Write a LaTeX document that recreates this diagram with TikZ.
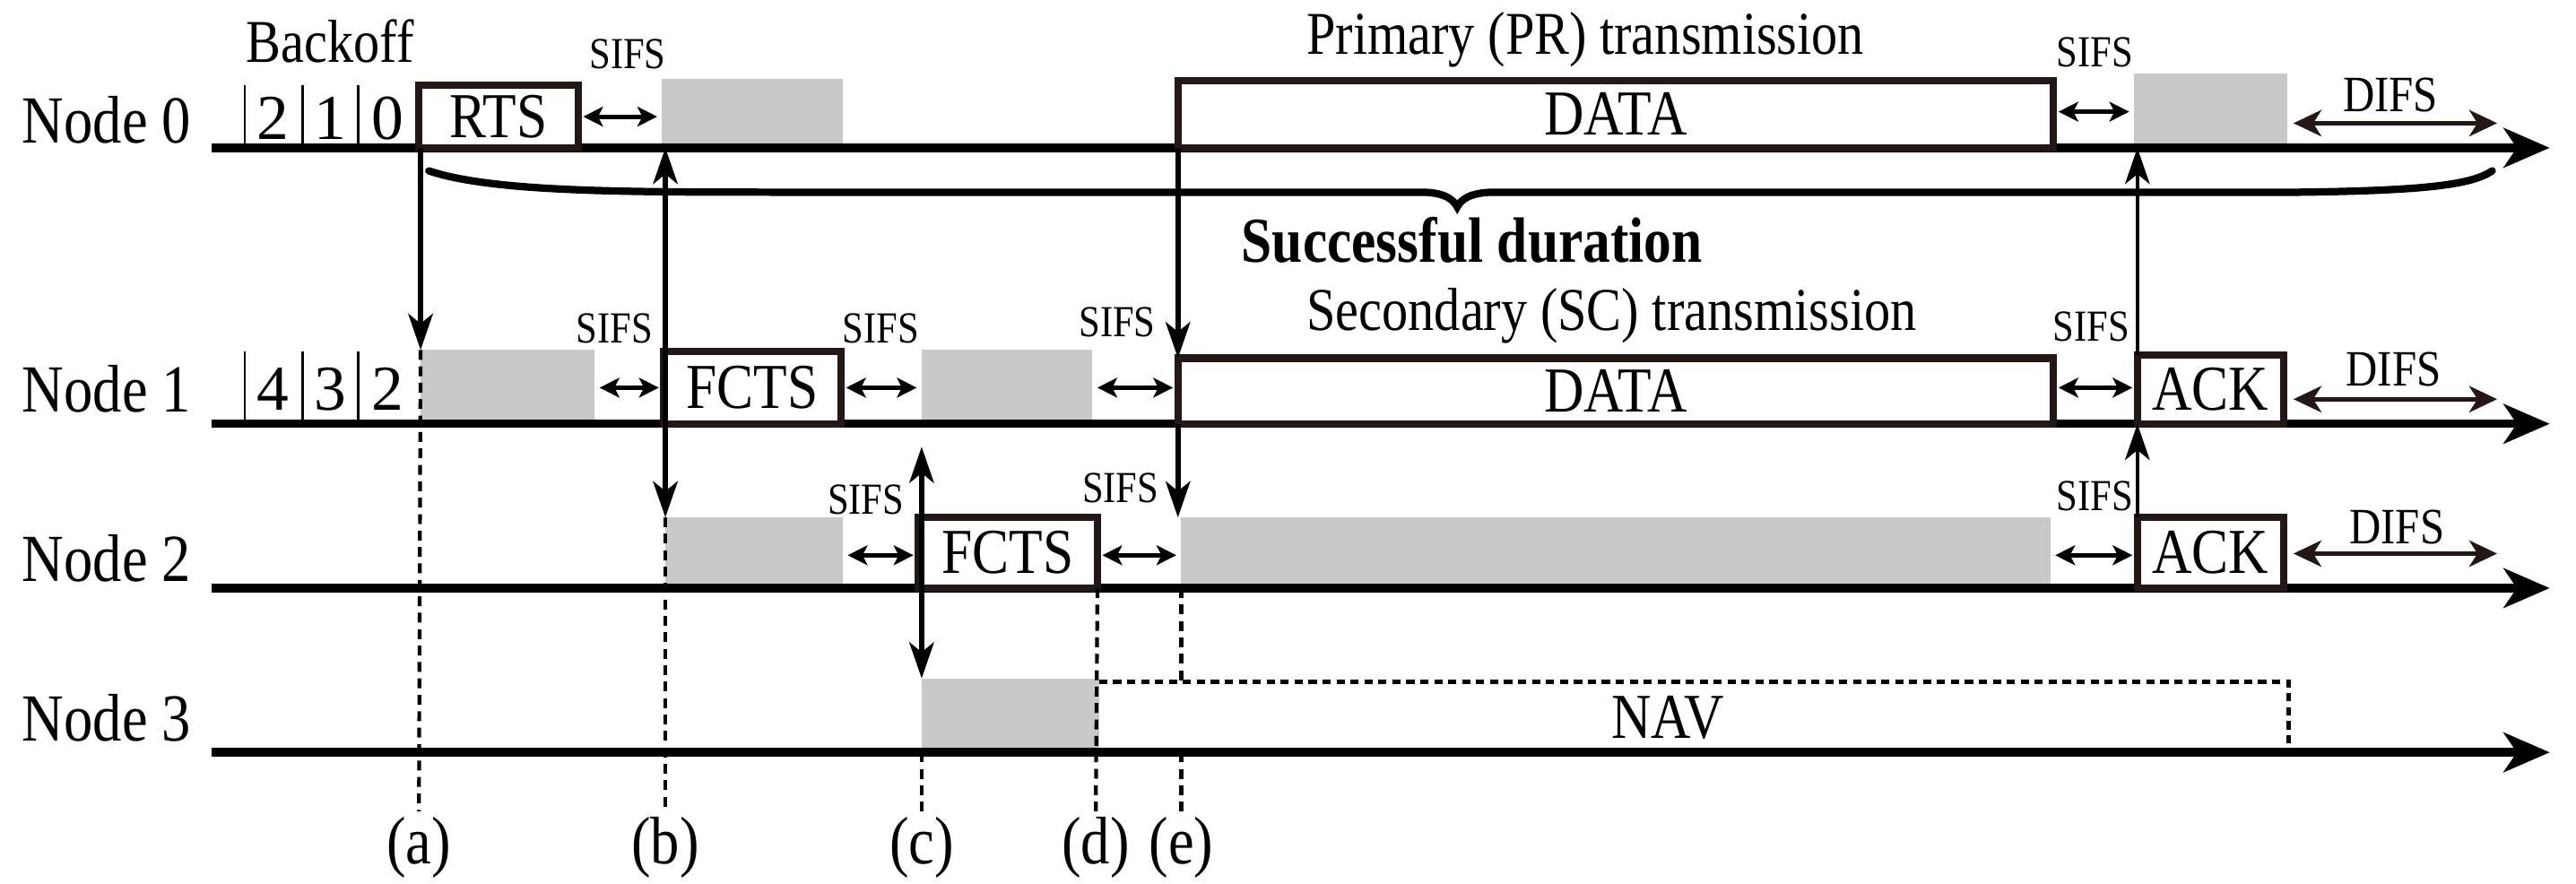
\documentclass[tikz,border=0pt]{standalone}
\usepackage{fontspec}
\setmainfont{Liberation Serif}
\usetikzlibrary{arrows.meta,fit}
\definecolor{gbox}{HTML}{C8C8C8}
\definecolor{ink}{HTML}{231815}
\newcommand{\cn}[1]{\scalebox{0.86}[1]{#1}}
\begin{document}
\begin{tikzpicture}[x=1pt,y=-1pt,
  axis/.style={line width=5.2pt,-{Stealth[length=28pt,width=24pt,inset=8pt]}},
  frame/.style={draw=ink,line width=4.5pt,fill=white,inner sep=0pt,outer sep=0pt},
  grey/.style={fill=gbox,draw=none,inner sep=0pt,outer sep=0pt},
  arr/.style={line width=3pt,-{Stealth[length=22pt,width=15pt,inset=6pt]}},
  darr/.style={line width=3pt,{Stealth[length=22pt,width=15pt,inset=6pt]}-{Stealth[length=22pt,width=15pt,inset=6pt]}},
  sarr/.style={line width=2.8pt,{Stealth[length=12pt,width=12pt,inset=3pt]}-{Stealth[length=12pt,width=12pt,inset=3pt]},shorten <=3pt,shorten >=3pt},
  difs/.style={draw=ink,line width=2.8pt,{Stealth[length=17pt,width=16pt,inset=5pt]}-{Stealth[length=17pt,width=16pt,inset=5pt]}},
  dsh/.style={line width=2.3pt,dash pattern=on 6pt off 4pt},
  sifs/.style={font=\fontsize{27}{27}\selectfont},
  lab/.style={font=\fontsize{41}{41}\selectfont},
  box/.style={font=\fontsize{39}{39}\selectfont},
  big/.style={font=\fontsize{37}{37}\selectfont},
  sep/.style={line width=1.5pt}]
\useasboundingbox (0,0) rectangle (1568,538);
% node labels
\node[lab] (n0) at (65,73) {\cn{Node 0}};
\node[lab] (n1) at (65,237) {\cn{Node 1}};
\node[lab] (n2) at (65,340) {\cn{Node 2}};
\node[lab] (n3) at (65,437) {\cn{Node 3}};
\node[big] (bo) at (201,25) {\cn{Backoff}};
% axes
\coordinate (a0s) at (129,90); \coordinate (a0e) at (1552,90);
\coordinate (a1s) at (129,258); \coordinate (a1e) at (1552,258);
\coordinate (a2s) at (129,358); \coordinate (a2e) at (1552,358);
\coordinate (a3s) at (129,458); \coordinate (a3e) at (1552,458);
% grey boxes
\coordinate (p1) at (403,48); \coordinate (p2) at (513,90); \node[grey,fit=(p1)(p2)] (g01) {};
\coordinate (p1) at (1299,45); \coordinate (p2) at (1392,90); \node[grey,fit=(p1)(p2)] (g02) {};
\coordinate (p1) at (256,213); \coordinate (p2) at (362,258); \node[grey,fit=(p1)(p2)] (g11) {};
\coordinate (p1) at (561,213); \coordinate (p2) at (665,258); \node[grey,fit=(p1)(p2)] (g12) {};
\coordinate (p1) at (405,315); \coordinate (p2) at (513,358); \node[grey,fit=(p1)(p2)] (g21) {};
\coordinate (p1) at (719,315); \coordinate (p2) at (1248,358); \node[grey,fit=(p1)(p2)] (g22) {};
\coordinate (p1) at (561,413); \coordinate (p2) at (669,458); \node[grey,fit=(p1)(p2)] (g31) {};
% axes drawn
\draw[axis] (a0s) -- (a0e);
\draw[axis] (a1s) -- (a1e);
\draw[axis] (a2s) -- (a2e);
\draw[axis] (a3s) -- (a3e);
% framed boxes
\coordinate (p1) at (255,52); \coordinate (p2) at (352,90); \node[frame,fit=(p1)(p2)] (rts) {};
\node[box] at (rts.center) {\cn{RTS}};
\coordinate (p1) at (717,49); \coordinate (p2) at (1250,90); \node[frame,fit=(p1)(p2)] (d0) {};
\node[box] at (d0.center) {\cn{DATA}};
\coordinate (p1) at (404,214); \coordinate (p2) at (512,258); \node[frame,fit=(p1)(p2)] (f1) {};
\node[box] at (f1.center) {\cn{FCTS}};
\coordinate (p1) at (717,218); \coordinate (p2) at (1250,258); \node[frame,fit=(p1)(p2)] (d1) {};
\node[box] at (d1.center) {\cn{DATA}};
\coordinate (p1) at (1301,216); \coordinate (p2) at (1390,258); \node[frame,fit=(p1)(p2)] (ack1) {};
\node[box] at (ack1.center) {\cn{ACK}};
\coordinate (p1) at (559,315); \coordinate (p2) at (668,358); \node[frame,fit=(p1)(p2)] (f2) {};
\node[box] at (f2.center) {\cn{FCTS}};
\coordinate (p1) at (1301,315); \coordinate (p2) at (1390,358); \node[frame,fit=(p1)(p2)] (ack2) {};
\node[box] at (ack2.center) {\cn{ACK}};
% NAV
\coordinate (nav1) at (669,415); \coordinate (nav2) at (1393,415); \coordinate (nav3) at (1393,458);
\draw[line width=2.8pt,dash pattern=on 5pt off 3.5pt] (nav1) -- (nav2) -- (nav3);
\node[box] (navt) at (1015,437) {\cn{NAV}};
% backoff cells
\foreach \x in {149,184,218} {\draw[sep] (\x,52) -- (\x,90); \draw[sep] (\x,214) -- (\x,258);}
\node[box] (b02) at (166,72) {2}; \node[box] (b01) at (201,72) {1}; \node[box] (b00) at (236,72) {0};
\node[box] (b14) at (166,237) {4}; \node[box] (b13) at (201,237) {3}; \node[box] (b12) at (236,237) {2};
% titles
\node[big] (pr) at (965,24) {\cn{Primary (PR) transmission}};
\node[big] (sc) at (981,192) {\cn{Secondary (SC) transmission}};
\node[font=\fontsize{39}{39}\selectfont\bfseries] (sd) at (896,146) {\cn{Successful duration}};
% brace
\draw[line width=4.5pt,line cap=round] (261,104) .. controls (300,117) and (380,117) .. (480,117) -- (865,117) .. controls (880,117) and (885,122) .. (887,126) .. controls (889,122) and (894,117) .. (910,117) -- (1400,117) .. controls (1480,116) and (1505,112) .. (1517,104);
% SIFS arrows and labels
\draw[sarr] (rts.east) -- (rts.east -| g01.west);
\draw[sarr] (d0.east |- 0,68) -- (g02.west |- 0,68);
\draw[sarr] (g11.east |- 0,236) -- (f1.west |- 0,236);
\draw[sarr] (f1.east |- 0,236) -- (g12.west |- 0,236);
\draw[sarr] (g12.east |- 0,236) -- (d1.west |- 0,236);
\draw[sarr] (d1.east |- 0,236) -- (ack1.west |- 0,236);
\draw[sarr] (g21.east |- 0,338) -- (f2.west |- 0,338);
\draw[sarr] (f2.east |- 0,338) -- (g22.west |- 0,338);
\draw[sarr] (g22.east |- 0,338) -- (ack2.west |- 0,338);
\node[sifs] (s1) at (382,33) {\cn{SIFS}};
\node[sifs] (s2) at (1275,32) {\cn{SIFS}};
\node[sifs] (s3) at (374,200) {\cn{SIFS}};
\node[sifs] (s4) at (536,200) {\cn{SIFS}};
\node[sifs] (s5) at (680,196) {\cn{SIFS}};
\node[sifs] (s6) at (1273,199) {\cn{SIFS}};
\node[sifs] (s7) at (527,304) {\cn{SIFS}};
\node[sifs] (s8) at (682,297) {\cn{SIFS}};
\node[sifs] (s9) at (1275,302) {\cn{SIFS}};
% DIFS
\coordinate (df0a) at (1396,75); \coordinate (df0b) at (1520,75);
\coordinate (df1a) at (1396,243); \coordinate (df1b) at (1520,243);
\coordinate (df2a) at (1396,337); \coordinate (df2b) at (1520,337);
\draw[difs] (df0a) -- (df0b); \draw[difs] (df1a) -- (df1b); \draw[difs] (df2a) -- (df2b);
\node[font=\fontsize{31}{31}\selectfont] (dl0) at (1455,58) {\cn{DIFS}};
\node[font=\fontsize{31}{31}\selectfont] (dl1) at (1457,225) {\cn{DIFS}};
\node[font=\fontsize{31}{31}\selectfont] (dl2) at (1459,321) {\cn{DIFS}};
% bottom labels
\node[lab] (la) at (255,516) {\cn{(a)}};
\node[lab] (lb) at (405,516) {\cn{(b)}};
\node[lab] (lc) at (561,516) {\cn{(c)}};
\node[lab] (ld) at (667,516) {\cn{(d)}};
\node[lab] (le) at (719,516) {\cn{(e)}};
% vertical arrows
\draw[arr] (g11.north west |- a0s) -- (g11.north west);
\draw[dsh] (g11.north west) -- (la.north);
\draw[darr] (g21.north west) -- (g21.north west |- a0s);
\draw[dsh] (g21.north west) -- (lb.north);
\coordinate (ctop) at (561,272);
\draw[darr] (ctop) -- (g31.north west);
\draw[dsh] (g31.south west) -- (lc.north);
\draw[dsh] (f2.south east) -- (ld.north);
\draw[arr] (d0.south west) -- (d1.north west);
\draw[arr] (d1.south west) -- (d1.south west |- g22.north);
\draw[dsh] (g22.south west) -- (g22.south west |- nav1);
\draw[dsh] (g22.south west |- a3s) -- (le.north);
\draw[arr,line width=2.3pt] (ack1.north west) -- (ack1.north west |- a0s);
\draw[arr,line width=2.3pt] (ack2.north west) -- (ack2.north west |- a1s);
\end{tikzpicture}
\end{document}
